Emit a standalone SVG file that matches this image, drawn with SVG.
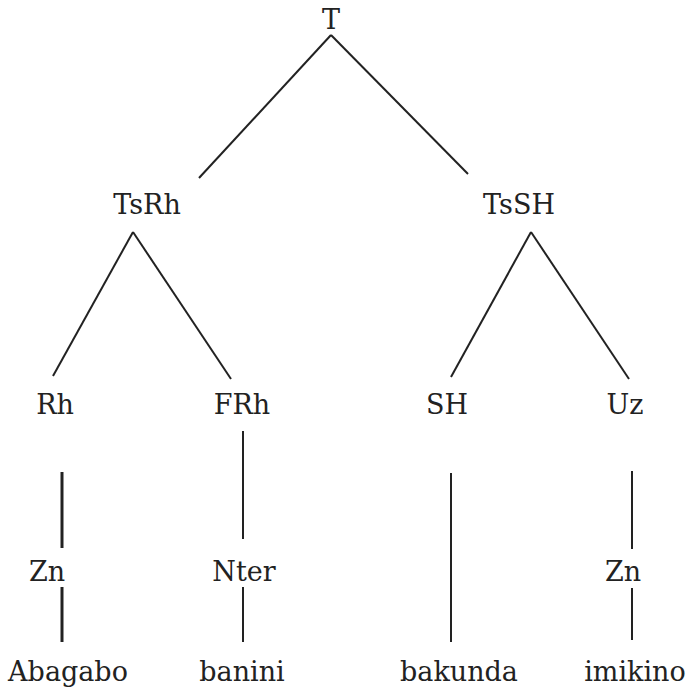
<svg xmlns="http://www.w3.org/2000/svg" width="694" height="691" viewBox="0 0 694 691">
<style>
text{font-family:"DejaVu Serif","Liberation Serif",serif;font-size:27px;fill:#222;text-anchor:middle}
line{stroke:#222;stroke-width:2;stroke-linecap:butt}
.thick{stroke-width:3}
</style>
<rect width="694" height="691" fill="#fff"/>
<g id="connectors">
<line x1="331" y1="35" x2="199" y2="178"/>
<line x1="331" y1="35" x2="468" y2="174"/>
<line x1="133" y1="232" x2="53" y2="376"/>
<line x1="133" y1="232" x2="231" y2="379"/>
<line x1="531" y1="232" x2="451" y2="377"/>
<line x1="531" y1="232" x2="629" y2="379"/>
<line class="thick" x1="62" y1="472" x2="62" y2="548"/>
<line class="thick" x1="62" y1="587" x2="62" y2="642"/>
<line x1="243" y1="431" x2="243" y2="539"/>
<line x1="243" y1="587" x2="243" y2="642"/>
<line x1="451" y1="473" x2="451" y2="642"/>
<line x1="632" y1="471" x2="632" y2="549"/>
<line x1="632" y1="588" x2="632" y2="640"/>
</g>
<g id="n-T"><text x="331" y="29">T</text></g>
<g id="n-TsRh"><text x="147" y="214">TsRh</text></g>
<g id="n-TsSH"><text x="519" y="214">TsSH</text></g>
<g id="n-Rh"><text x="55" y="414">Rh</text></g>
<g id="n-FRh"><text x="242" y="414">FRh</text></g>
<g id="n-SH"><text x="447" y="414">SH</text></g>
<g id="n-Uz"><text x="625" y="414">Uz</text></g>
<g id="n-Zn1"><text x="47" y="581">Zn</text></g>
<g id="n-Nter"><text x="244" y="581">Nter</text></g>
<g id="n-Zn2"><text x="623" y="581">Zn</text></g>
<g id="n-Abagabo"><text x="68" y="681">Abagabo</text></g>
<g id="n-banini"><text x="242" y="681">banini</text></g>
<g id="n-bakunda"><text x="459" y="681">bakunda</text></g>
<g id="n-imikino"><text x="635" y="681">imikino</text></g>
</svg>
